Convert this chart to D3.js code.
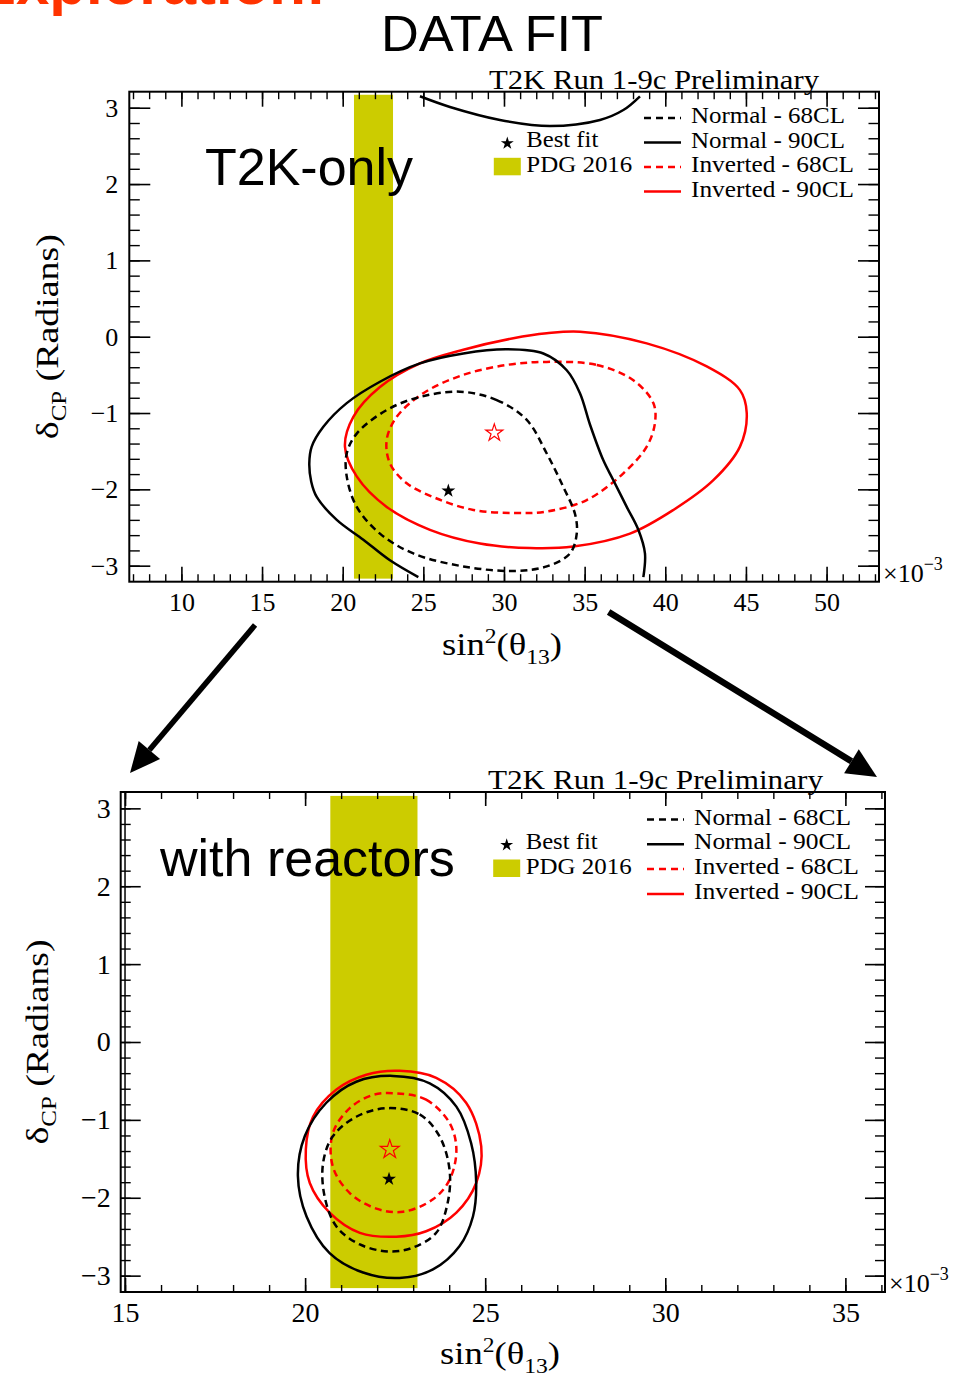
<!DOCTYPE html>
<html>
<head>
<meta charset="utf-8">
<script src="https://cdn.jsdelivr.net/npm/d3@7"></script>
<style>
  body { margin: 0; background: #fff; }
  svg { display: block; }
</style>
</head>
<body>
<div id="chart"></div>
<script>
// ---- data (sin^2(theta13) in units of 1e-3, deltaCP in radians) ----
const pdgBand = [20.7, 23.12];          // PDG 2016
const legendLabels = ["Normal - 68CL", "Normal - 90CL", "Inverted - 68CL", "Inverted - 90CL"];

const xMajorTop = [10, 15, 20, 25, 30, 35, 40, 45, 50];
const xMinorTop = d3.range(7, 54);
const xMajorBottom = [15, 20, 25, 30, 35];
const xMinorBottom = d3.range(15, 37);
const yMajor = [-3, -2, -1, 0, 1, 2, 3];
const yMinor = d3.range(-15, 16).map(i => i / 5);

// T2K-only
const t2kNH68 = [[27.27,-0.72],[29.55,-0.83],[31.41,-1.09],[32.65,-1.53],[33.68,-1.97],[34.40,-2.32],
  [34.51,-2.58],[34.09,-2.84],[32.65,-3.01],[30.58,-3.07],[27.48,-3.01],[24.38,-2.84],[22.31,-2.58],
  [20.87,-2.23],[20.25,-1.83],[20.25,-1.53],[20.87,-1.27],[22.73,-0.96],[24.79,-0.79]];
const t2kNH90 = [[24.69,-3.15],[22.93,-2.93],[21.28,-2.66],[19.63,-2.40],[18.39,-2.10],[18.05,-1.90],
  [17.93,-1.66],[18.08,-1.44],[18.80,-1.18],[20.25,-0.87],[22.31,-0.59],[24.79,-0.35],[27.48,-0.22],
  [30.17,-0.165],[32.44,-0.22],[33.89,-0.44],[34.71,-0.74],[35.33,-1.15],[36.16,-1.62],
  [36.78,-1.88],[37.61,-2.23],[38.33,-2.53],[38.74,-2.84],[38.64,-3.15]];
const t2kNH90wrap = [[24.79,3.15],[26.65,3.01],[29.75,2.84],[32.85,2.76],[35.95,2.84],[37.40,2.97],[38.43,3.15]];
const t2kIH68 = [[32.65,-0.33],[35.75,-0.37],[38.02,-0.57],[39.26,-0.87],[39.36,-1.13],[38.85,-1.44],
  [37.40,-1.79],[35.13,-2.14],[32.65,-2.29],[30.58,-2.31],[28.10,-2.27],[25.83,-2.12],[23.97,-1.92],
  [22.93,-1.66],[22.73,-1.35],[23.35,-1.05],[25.00,-0.74],[27.48,-0.50],[30.17,-0.37]];
const t2kIH90 = [[34.71,0.066],[38.85,-0.087],[42.57,-0.39],[44.63,-0.70],[45.05,-1.00],[44.63,-1.44],
  [42.98,-1.88],[40.50,-2.27],[37.81,-2.58],[34.30,-2.75],[31.61,-2.77],[28.51,-2.71],[25.41,-2.53],
  [22.73,-2.23],[20.87,-1.83],[20.14,-1.44],[20.66,-1.05],[22.31,-0.66],[24.79,-0.35],[27.48,-0.17],
  [30.58,-0.02],[32.65,0.045]];
const t2kBestNH = [26.55, -2.02];
const t2kBestIH = [29.40, -1.26];

// with reactor constraint
const rcNH68 = [[22.26,-0.85],[23.18,-0.93],[23.73,-1.21],[24.01,-1.64],[23.96,-2.06],[23.64,-2.45],
  [22.99,-2.64],[22.35,-2.69],[21.52,-2.60],[20.87,-2.37],[20.54,-1.98],[20.50,-1.55],[20.77,-1.21],
  [21.42,-0.96]];
const rcNH90 = [[22.44,-0.435],[23.46,-0.53],[24.20,-0.83],[24.61,-1.30],[24.75,-1.81],[24.66,-2.24],
  [24.29,-2.62],[23.55,-2.92],[22.62,-3.03],[21.61,-2.96],[20.68,-2.71],[20.04,-2.24],[19.80,-1.72],
  [19.99,-1.21],[20.59,-0.78],[21.42,-0.51]];
const rcIH68 = [[22.53,-0.66],[23.36,-0.74],[24.01,-1.04],[24.20,-1.38],[24.01,-1.77],[23.55,-2.02],
  [22.72,-2.18],[21.98,-2.14],[21.24,-1.94],[20.77,-1.60],[20.77,-1.17],[21.24,-0.85],[21.88,-0.68]];
const rcIH90 = [[22.62,-0.37],[23.64,-0.46],[24.47,-0.78],[24.89,-1.34],[24.75,-1.81],[24.20,-2.19],
  [23.36,-2.43],[22.53,-2.50],[21.52,-2.45],[20.68,-2.19],[20.13,-1.81],[20.02,-1.38],[20.22,-0.96],
  [20.87,-0.61],[21.70,-0.42]];
const rcBestNH = [22.33, -1.76];
const rcBestIH = [22.35, -1.38];

const RED = "#ff0000", BAND = "#cccc00";
const SERIF = "'Liberation Serif', 'Times New Roman', serif";
const SANS = "'Liberation Sans', Arial, sans-serif";

const svg = d3.select("#chart").append("svg")
    .attr("width", 979)
    .attr("height", 1379);

// partly cut-off slide title (only its lower edge is on the page) + heading
svg.append("text")
    .attr("x", 326).attr("y", 4)
    .attr("text-anchor", "end")
    .style("font-family", SANS).style("font-weight", "bold")
    .style("font-size", "60px").attr("fill", "#ff3300")
    .text("Exploration!");

svg.append("text")
    .attr("x", 492).attr("y", 51)
    .attr("text-anchor", "middle")
    .attr("textLength", 222).attr("lengthAdjust", "spacingAndGlyphs")
    .style("font-family", SANS).style("font-size", "50px")
    .text("DATA FIT");

function drawPanel(p) {
    const x = d3.scaleLinear().domain(p.xDomain).range([p.left, p.right]);
    const y = d3.scaleLinear().domain([-3.21, 3.21]).range([p.bottom, p.top]);
    const g = svg.append("g");

    const clipId = "clip" + p.id;
    g.append("clipPath").attr("id", clipId)
        .append("rect")
        .attr("x", p.left).attr("y", p.top)
        .attr("width", p.right - p.left).attr("height", p.bottom - p.top);

    const plot = g.append("g").attr("clip-path", `url(#${clipId})`);

    // PDG band
    plot.append("rect")
        .attr("x", x(pdgBand[0]))
        .attr("width", x(pdgBand[1]) - x(pdgBand[0]))
        .attr("y", y(p.bandEdge))
        .attr("height", y(-p.bandEdge) - y(p.bandEdge))
        .attr("fill", BAND);

    // contours
    const lineOpen = d3.line().x(d => x(d[0])).y(d => y(d[1])).curve(d3.curveCatmullRom.alpha(0.5));
    const lineClosed = d3.line().x(d => x(d[0])).y(d => y(d[1])).curve(d3.curveCatmullRomClosed.alpha(0.5));

    plot.selectAll("path.contour")
        .data(p.contours)
        .join("path")
        .attr("class", "contour")
        .attr("d", d => (d.closed ? lineClosed : lineOpen)(d.pts))
        .attr("fill", "none")
        .attr("stroke", d => d.color)
        .attr("stroke-width", 2.5)
        .attr("stroke-dasharray", d => d.dashed ? "7,4.5" : null);

    // best fit stars
    plot.append("path")
        .attr("transform", `translate(${x(p.bestNH[0])},${y(p.bestNH[1])})`)
        .attr("d", d3.symbol(d3.symbolStar, 60)())
        .attr("fill", "#000");
    plot.append("path")
        .attr("transform", `translate(${x(p.bestIH[0])},${y(p.bestIH[1])})`)
        .attr("d", d3.symbol(d3.symbolStar, p.openStar)())
        .attr("fill", "none")
        .attr("stroke", RED)
        .attr("stroke-width", 1.2);

    if (p.extraLineAt !== undefined) {
        g.append("line")
            .attr("x1", x(p.extraLineAt)).attr("x2", x(p.extraLineAt))
            .attr("y1", p.top).attr("y2", p.bottom)
            .attr("stroke", "#000").attr("stroke-width", 1.5);
    }

    // axes: minor + major, mirrored on top/right
    const axes = [
        [d3.axisBottom(x), `translate(0,${p.bottom})`, p.xMinor, p.xMajor, p.xTick, true],
        [d3.axisTop(x), `translate(0,${p.top})`, p.xMinor, p.xMajor, p.xTick, false],
        [d3.axisLeft(y), `translate(${p.left},0)`, yMinor, yMajor, p.yTick, true],
        [d3.axisRight(y), `translate(${p.right},0)`, yMinor, yMajor, p.yTick, false]
    ];
    axes.forEach(([ax, tr, minor, major, len, labels]) => {
        const gMinor = g.append("g").attr("transform", tr)
            .call(ax.tickValues(minor).tickSizeInner(-len / 2).tickSizeOuter(0).tickFormat(""));
        gMinor.select(".domain").remove();
        gMinor.selectAll("line").attr("stroke-width", 1.4);

        const gMajor = g.append("g").attr("transform", tr)
            .call(ax.tickValues(major).tickSizeInner(-len).tickSizeOuter(0)
                .tickPadding(labels ? p.pad : 0)
                .tickFormat(labels ? d3.format("d") : ""));
        gMajor.select(".domain").remove();
        gMajor.selectAll("line").attr("stroke-width", 1.6);
        gMajor.selectAll("text")
            .style("font-family", SERIF)
            .style("font-size", p.tickFs + "px")
            .attr("fill", "#000");
    });

    // frame
    g.append("rect")
        .attr("x", p.left).attr("y", p.top)
        .attr("width", p.right - p.left).attr("height", p.bottom - p.top)
        .attr("fill", "none").attr("stroke", "#000").attr("stroke-width", 2);

    // x10^-3
    const mult = g.append("text")
        .attr("x", p.right + 4).attr("y", p.bottom)
        .style("font-family", SERIF).style("font-size", "26px");
    mult.append("tspan").text("×10");
    mult.append("tspan").attr("dy", -12).style("font-size", "18px").text("−3");

    // axis titles
    const xt = g.append("text")
        .attr("x", p.xTitleX).attr("y", p.xTitleY)
        .attr("text-anchor", "middle")
        .attr("textLength", 120).attr("lengthAdjust", "spacingAndGlyphs")
        .style("font-family", SERIF).style("font-size", "31px");
    xt.append("tspan").text("sin");
    xt.append("tspan").attr("dy", -12).style("font-size", "20px").text("2");
    xt.append("tspan").attr("dy", 12).text("(θ");
    xt.append("tspan").attr("dy", 9).style("font-size", "20px").text("13");
    xt.append("tspan").attr("dy", -9).text(")");

    const yt = g.append("text")
        .attr("transform", `translate(${p.yTitleX},${y(0)}) rotate(-90)`)
        .attr("text-anchor", "middle")
        .attr("textLength", 205).attr("lengthAdjust", "spacingAndGlyphs")
        .style("font-family", SERIF).style("font-size", "32px");
    yt.append("tspan").text("δ");
    yt.append("tspan").attr("dy", 8).style("font-size", "21px").text("CP");
    yt.append("tspan").attr("dy", -8).text(" (Radians)");

    // header + panel label
    g.append("text")
        .attr("x", p.headerX).attr("y", p.top - 3)
        .attr("textLength", p.headerW).attr("lengthAdjust", "spacingAndGlyphs")
        .style("font-family", SERIF).style("font-size", "28px")
        .text("T2K Run 1-9c Preliminary");

    g.append("text")
        .attr("x", p.labelX).attr("y", p.labelY)
        .style("font-family", SANS).style("font-size", "52px")
        .text(p.label);

    // legend: best fit + PDG
    g.append("path")
        .attr("transform", `translate(${p.starX},${p.starY})`)
        .attr("d", d3.symbol(d3.symbolStar, 52)())
        .attr("fill", "#000");
    g.append("text")
        .attr("x", p.starX + 19).attr("y", p.starY + 4)
        .attr("textLength", 72).attr("lengthAdjust", "spacingAndGlyphs")
        .style("font-family", SERIF).style("font-size", "23px")
        .text("Best fit");
    g.append("rect")
        .attr("x", p.starX - 13.5).attr("y", p.starY + 14.5)
        .attr("width", 27).attr("height", 17.5)
        .attr("fill", BAND);
    g.append("text")
        .attr("x", p.starX + 19).attr("y", p.starY + 28.5)
        .attr("textLength", 106).attr("lengthAdjust", "spacingAndGlyphs")
        .style("font-family", SERIF).style("font-size", "23px")
        .text("PDG 2016");

    // legend: contour styles
    const styles = [["#000", true], ["#000", false], [RED, true], [RED, false]];
    const rows = g.selectAll("g.leg")
        .data(legendLabels)
        .join("g")
        .attr("class", "leg")
        .attr("transform", (d, i) => `translate(${p.legX},${p.legY + i * p.legStep})`);
    rows.append("line")
        .attr("x1", 0).attr("x2", 37)
        .attr("stroke", (d, i) => styles[i][0])
        .attr("stroke-width", 2.5)
        .attr("stroke-dasharray", (d, i) => styles[i][1] ? "7,5" : null);
    rows.append("text")
        .attr("x", 47).attr("y", 5)
        .attr("textLength", (d, i) => i < 2 ? p.legW[0] : p.legW[1])
        .attr("lengthAdjust", "spacingAndGlyphs")
        .style("font-family", SERIF).style("font-size", "23px")
        .text(d => d);

    return { x, y };
}

const topPanel = drawPanel({
    id: "top", xDomain: [6.77, 53.25],
    left: 129.3, right: 879, top: 91.7, bottom: 581.7,
    xMajor: xMajorTop, xMinor: xMinorTop, xTick: 15, yTick: 21, pad: 11, tickFs: 26,
    bandEdge: 3.17, openStar: 90,
    contours: [
        { pts: t2kIH90, color: RED, dashed: false, closed: true },
        { pts: t2kIH68, color: RED, dashed: true, closed: true },
        { pts: t2kNH90, color: "#000", dashed: false, closed: false },
        { pts: t2kNH90wrap, color: "#000", dashed: false, closed: false },
        { pts: t2kNH68, color: "#000", dashed: true, closed: true }
    ],
    bestNH: t2kBestNH, bestIH: t2kBestIH,
    xTitleX: 502, xTitleY: 655, yTitleX: 58,
    headerX: 489, headerW: 330,
    label: "T2K-only", labelX: 205, labelY: 185,
    starX: 507.3, starY: 143.3,
    legX: 644, legY: 118, legStep: 24.5, legW: [154, 163]
});

const bottomPanel = drawPanel({
    id: "bot", xDomain: [14.88, 36.1],
    left: 120.7, right: 885, top: 792, bottom: 1292,
    xMajor: xMajorBottom, xMinor: xMinorBottom, xTick: 14, yTick: 20, pad: 10, tickFs: 28,
    bandEdge: 3.16, openStar: 110, extraLineAt: 15,
    contours: [
        { pts: rcIH90, color: RED, dashed: false, closed: true },
        { pts: rcIH68, color: RED, dashed: true, closed: true },
        { pts: rcNH90, color: "#000", dashed: false, closed: true },
        { pts: rcNH68, color: "#000", dashed: true, closed: true }
    ],
    bestNH: rcBestNH, bestIH: rcBestIH,
    xTitleX: 500, xTitleY: 1364, yTitleX: 48,
    headerX: 488, headerW: 335,
    label: "with reactors", labelX: 160, labelY: 876,
    starX: 506.7, starY: 845,
    legX: 647, legY: 819.5, legStep: 24.8, legW: [157, 165]
});

// arrows from the upper plot down to the zoomed plot
function arrow(x0, y0, x1, y1, w) {
    const dx = x1 - x0, dy = y1 - y0, len = Math.hypot(dx, dy);
    const ux = dx / len, uy = dy / len, head = 30, half = 14;
    const bx = x1 - ux * head, by = y1 - uy * head;
    svg.append("line")
        .attr("x1", x0).attr("y1", y0).attr("x2", bx).attr("y2", by)
        .attr("stroke", "#000").attr("stroke-width", w);
    svg.append("path")
        .attr("d", `M${x1},${y1}L${bx - uy * half},${by + ux * half}L${bx + uy * half},${by - ux * half}Z`)
        .attr("fill", "#000");
}
arrow(topPanel.x(15) - 7, 625, bottomPanel.x(15) + 5, 773, 5.5);
arrow(topPanel.x(35) + 24, 612, bottomPanel.x(36.1) - 8, 777, 6.5);
</script>
</body>
</html>
